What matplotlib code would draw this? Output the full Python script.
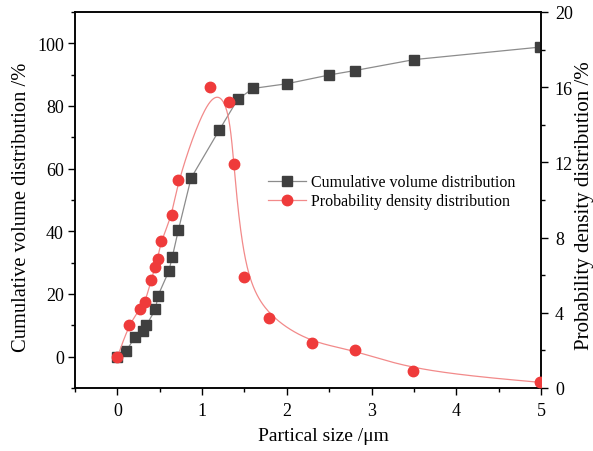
import numpy as np
import matplotlib
matplotlib.use("Agg")
import matplotlib.pyplot as plt
from matplotlib.ticker import MultipleLocator
from matplotlib.lines import Line2D

plt.rcParams['font.family'] = ['Liberation Serif', 'DejaVu Serif']

# Cumulative volume distribution (%), left axis
cum_x = [0.0, 0.106, 0.209, 0.307, 0.342, 0.449, 0.48, 0.606, 0.649, 0.72, 0.87,
         1.2, 1.42, 1.6, 2.0, 2.5, 2.8, 3.5, 4.99]
cum_y = [0.0, 1.9, 6.3, 8.2, 10.0, 15.1, 19.5, 27.2, 31.9, 40.4, 57.0,
         72.2, 82.1, 85.6, 87.1, 89.9, 91.3, 94.8, 98.8]

# Probability density distribution (%), right axis
pd_x = [0.0, 0.134, 0.263, 0.327, 0.398, 0.445, 0.476, 0.516, 0.649, 0.712,
        1.098, 1.314, 1.373, 1.5, 1.795, 2.3, 2.8, 3.495, 4.99]
pd_y = [1.63, 3.34, 4.18, 4.55, 5.72, 6.45, 6.88, 7.84, 9.21, 11.06,
        16.02, 15.22, 11.89, 5.88, 3.72, 2.38, 2.03, 0.91, 0.30]

x_ticks = [0, 1, 2, 3, 4, 5]
left_ticks = [0, 20, 40, 60, 80, 100]
right_ticks = [0, 4, 8, 12, 16, 20]
labels = ['Cumulative volume distribution', 'Probability density distribution']


def bspline(xs, ys, n=40):
    P = np.column_stack([xs, ys]).astype(float)
    P = np.vstack([P[:1], P[:1], P, P[-1:], P[-1:]])
    t = np.linspace(0, 1, n, endpoint=False)
    b0 = (1 - t) ** 3 / 6
    b1 = (3 * t ** 3 - 6 * t ** 2 + 4) / 6
    b2 = (-3 * t ** 3 + 3 * t ** 2 + 3 * t + 1) / 6
    b3 = t ** 3 / 6
    out = []
    for i in range(len(P) - 3):
        seg = (np.outer(b0, P[i]) + np.outer(b1, P[i + 1]) +
               np.outer(b2, P[i + 2]) + np.outer(b3, P[i + 3]))
        out.append(seg)
    out.append(P[-1:])
    out = np.vstack(out)
    return out[:, 0], out[:, 1]


W, H = 593, 452
fig = plt.figure(figsize=(W / 100, H / 100), dpi=100)
ax = fig.add_axes([75 / W, 1 - 389 / H, 466 / W, 376 / H])
ax2 = ax.twinx()

sq_color = '#3f3f3f'
line_gray = '#8c8c8c'
red = '#ef3b3b'
line_red = '#f28a8a'

ax.plot(cum_x, cum_y, color=line_gray, lw=0.9, zorder=2)
ax.plot(cum_x, cum_y, ls='none', marker='s', ms=6.5, color=sq_color, zorder=3)

bx, by = bspline(pd_x, pd_y)
ax2.plot(bx, by, color=line_red, lw=0.9, zorder=2)
ax2.plot(pd_x, pd_y, ls='none', marker='o', ms=7.5, color=red, zorder=3)

ax.set_xlim(-0.5, 5)
ax.set_ylim(-10, 110)
ax2.set_ylim(0, 20)

ax.set_xticks(x_ticks)
ax.set_yticks(left_ticks)
ax2.set_yticks(right_ticks)
ax.xaxis.set_minor_locator(MultipleLocator(0.5))
ax.yaxis.set_minor_locator(MultipleLocator(10))
ax2.yaxis.set_minor_locator(MultipleLocator(2))

for a in (ax, ax2):
    a.tick_params(which='major', direction='out', length=5, width=1, labelsize=13)
    a.tick_params(which='minor', direction='out', length=3, width=1)
    for s in a.spines.values():
        s.set_linewidth(1.1)
ax.tick_params(axis='y', right=False, pad=3)
ax2.tick_params(axis='y', pad=5)
ax.tick_params(axis='x', pad=5)

ax.set_xlabel('Partical size /μm', fontsize=14)
ax.set_ylabel('Cumulative volume distribution /%', fontsize=14.8)
ax2.set_ylabel('Probability density distribution /%', fontsize=15)
ax.xaxis.set_label_coords(323 / W, 1 - 437 / H, transform=fig.transFigure)
ax.yaxis.set_label_coords(22 / W, 1 - 207 / H, transform=fig.transFigure)
ax2.yaxis.set_label_coords(584 / W, 1 - 206 / H, transform=fig.transFigure)
for lab in (ax.xaxis.label, ax.yaxis.label, ax2.yaxis.label):
    lab.set_verticalalignment('center')
    lab.set_horizontalalignment('center')
    lab.set_rotation_mode('anchor')

h1 = Line2D([], [], color=line_gray, lw=0.9, marker='s', ms=6.5,
            mfc=sq_color, mec=sq_color)
h2 = Line2D([], [], color=line_red, lw=0.9, marker='o', ms=7.5,
            mfc=red, mec=red)
ax.legend([h1, h2], labels,
          loc='upper left', bbox_to_anchor=(0.383, 0.607), frameon=False,
          fontsize=11.5, handlelength=2.4, handletextpad=0.3, labelspacing=0.2)

fig.savefig('out.png', dpi=100)
